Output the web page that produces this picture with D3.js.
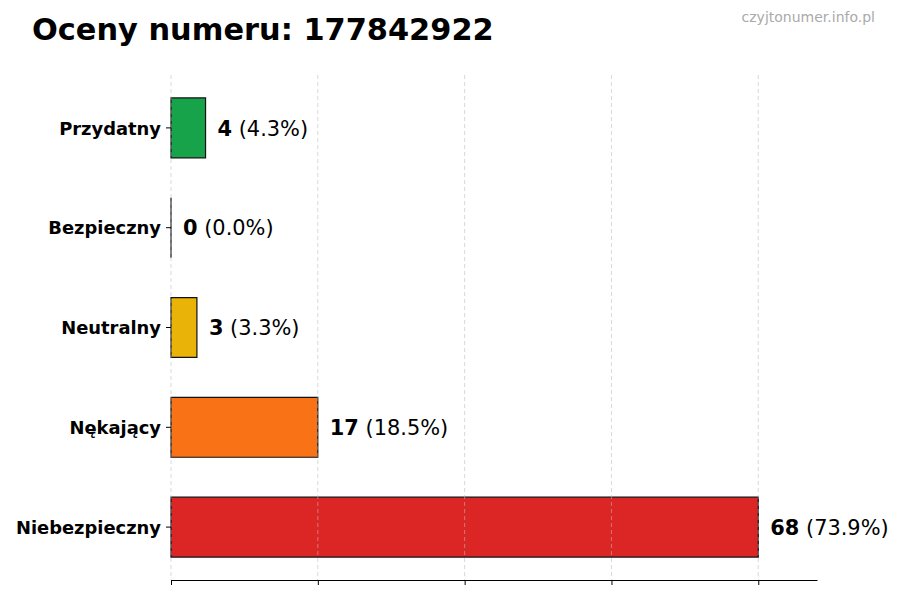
<!DOCTYPE html>
<html><head><meta charset="utf-8">
<script src="https://cdn.jsdelivr.net/npm/d3@7"></script>
<style>body{margin:0;background:#fff}svg{display:block}text{font-family:"DejaVu Sans",sans-serif}</style>
</head><body><svg id="c" width="900" height="600"></svg>
<script>
const categories = ["Przydatny","Bezpieczny","Neutralny","Nękający","Niebezpieczny"];
const counts = [4,0,3,17,68];
const percents = ["4.3%","0.0%","3.3%","18.5%","73.9%"];
const colors = ["#16a34a","#3b82f6","#eab308","#f97316","#dc2626"];
const tickValues = [0,17,34,51,68];
const titleText = "Oceny numeru: 177842922";
const watermark = "czyjtonumer.info.pl";

const svg = d3.select("#c");
const mLeft = 171, mRight = 817, mTop = 75, mBottom = 580;
const xMax = d3.max(counts) * 1.1;
const x = d3.scaleLinear().domain([0, xMax]).range([mLeft, mRight]);
const y = d3.scaleLinear().domain([-0.53, categories.length - 1 + 0.53]).range([mTop, mBottom]);
const bh = y(0.3) - y(-0.3);

svg.append("text").attr("x", 32).attr("y", 40).attr("font-size", 30.4).attr("font-weight", "bold").attr("fill", "#000").text(titleText);
svg.append("text").attr("x", 875).attr("y", 22).attr("text-anchor", "end").attr("font-size", 14).attr("fill", "#aaa").text(watermark);

// bars
svg.selectAll("path.bar").data(categories).join("path").attr("class","bar")
  .attr("d", (d,i) => { const p = d3.path(); p.rect(x(0), y(i) - bh/2, x(counts[i]) - x(0), bh); return p.toString(); })
  .attr("fill", (d,i) => colors[i]).attr("stroke", "#111").attr("stroke-width", 1.2);

// gridlines above bars
svg.selectAll("line.grid").data(tickValues).join("line").attr("class","grid")
  .attr("x1", d => x(d)).attr("x2", d => x(d)).attr("y1", mTop).attr("y2", mBottom)
  .attr("stroke", "#bbb").attr("stroke-opacity", 0.7).attr("stroke-width", 0.8).attr("stroke-dasharray", "4,3");

// bottom axis
const ax = svg.append("g").attr("transform", `translate(0,${mBottom})`)
  .call(d3.axisBottom(x).tickValues(tickValues).tickSize(5).tickFormat("").tickSizeOuter(0));
ax.select(".domain").attr("stroke", "#000").attr("stroke-width", 1.2);
ax.selectAll(".tick line").attr("stroke", "#000").attr("stroke-width", 1);

// y axis ticks and labels
const yg = svg.append("g");
yg.selectAll("line").data(categories).join("line")
  .attr("x1", mLeft - 5).attr("x2", mLeft).attr("y1", (d,i) => y(i)).attr("y2", (d,i) => y(i)).attr("stroke", "#000");
yg.selectAll("text").data(categories).join("text")
  .attr("x", mLeft - 10).attr("y", (d,i) => y(i)).attr("dy", "0.37em").attr("text-anchor", "end")
  .attr("font-size", 17.9).attr("font-weight", "bold").attr("fill", "#000").text(d => d);

// value labels
const vl = svg.selectAll("text.val").data(categories).join("text").attr("class","val")
  .attr("x", (d,i) => x(counts[i]) + 12).attr("y", (d,i) => y(i)).attr("dy", "0.37em")
  .attr("font-size", 20.9).attr("fill", "#000");
vl.append("tspan").attr("font-weight", "bold").text((d,i) => counts[i]);
vl.append("tspan").text((d,i) => " (" + percents[i] + ")");
</script></body></html>
